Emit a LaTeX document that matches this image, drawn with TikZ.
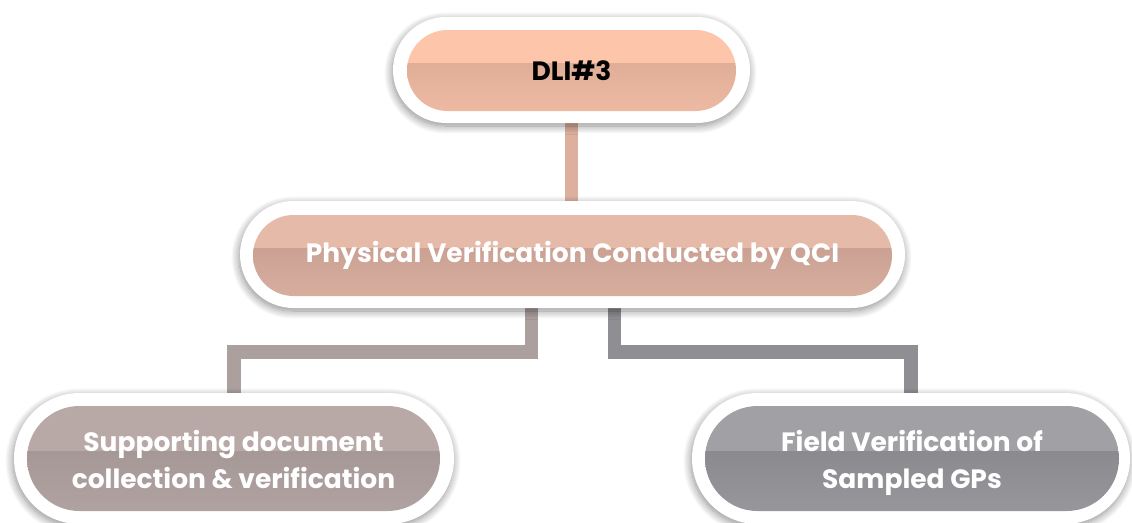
\documentclass[tikz,border=0pt]{standalone}
\usepackage{fontspec}
\setmainfont{Poppins}
\usetikzlibrary{shapes.misc,shadows.blur,backgrounds}
\definecolor{dliTop}{HTML}{FDC5AA}\definecolor{dliA}{HTML}{E0AE97}\definecolor{dliB}{HTML}{EDB9A2}
\definecolor{midTop}{HTML}{E6BAA9}\definecolor{midA}{HTML}{CAA193}\definecolor{midB}{HTML}{D7AE9E}
\definecolor{supTop}{HTML}{B8A9A7}\definecolor{supA}{HTML}{A59896}\definecolor{supB}{HTML}{B0A2A0}
\definecolor{fldTop}{HTML}{A1A1A5}\definecolor{fldA}{HTML}{8A8A8F}\definecolor{fldB}{HTML}{96969B}
\definecolor{cTop}{HTML}{DDB09E}\definecolor{cLeft}{HTML}{ABA09E}\definecolor{cRight}{HTML}{8E8E93}
\tikzset{
  outercap/.style={rounded rectangle, fill=white, inner sep=0pt,
    blur shadow={shadow xshift=-1pt, shadow yshift=-3pt, shadow blur radius=8pt, shadow blur steps=12, shadow opacity=45}},
  innercap/.style n args={3}{rounded rectangle, inner sep=0pt, align=center,
    font=\bfseries\fontsize{26.5}{37}\selectfont,
    path picture={
      \fill[#1] (path picture bounding box.north west) rectangle ([yshift=7pt]path picture bounding box.east);
      \shade[top color=#2, bottom color=#3] ([yshift=7pt]path picture bounding box.west) rectangle (path picture bounding box.south east);
    }},
  conn/.style={line width=13.5pt}
}
\begin{document}
\begin{tikzpicture}[x=1pt,y=-1pt]
\useasboundingbox (0,0) rectangle (1132,522);
% outer capsules
\node[outercap, minimum width=357pt, minimum height=106pt] (dli) at (571.5,70) {};
\node[outercap, minimum width=665pt, minimum height=107pt] (mid) at (572.5,254.5) {};
\node[outercap, minimum width=440pt, minimum height=131pt] (sup) at (234,458.5) {};
\node[outercap, minimum width=438pt, minimum height=131pt] (fld) at (911,458.5) {};
% inner capsules with text
\node[innercap={dliTop}{dliA}{dliB}, minimum width=329pt, minimum height=81pt, text=black] (dliIn) at (571.5,70.5) {DLI\#3};
\node[innercap={midTop}{midA}{midB}, minimum width=639pt, minimum height=81pt, text=white] (midIn) at (572.5,255.5) {Physical Verification Conducted by QCI};
\node[innercap={supTop}{supA}{supB}, minimum width=413pt, minimum height=105pt, text=white] (supIn) at (233.5,458.5) {\rule{0pt}{34pt}Supporting document\\collection \& verification\strut};
\node[innercap={fldTop}{fldA}{fldB}, minimum width=414pt, minimum height=105pt, text=white] (fldIn) at (912,458.5) {\rule{0pt}{34pt}Field Verification of\\Sampled GPs\strut};
% connectors
\begin{scope}[on background layer]
\draw[conn, cTop] (dli.south) -- (dli.south |- mid.north);
\draw[conn, cLeft] ([xshift=-41pt]mid.south) -- ++(0,44) -| (sup.north);
\draw[conn, cRight] ([xshift=42pt]mid.south) -- ++(0,44) -| (fld.north);
\end{scope}
\end{tikzpicture}
\end{document}
